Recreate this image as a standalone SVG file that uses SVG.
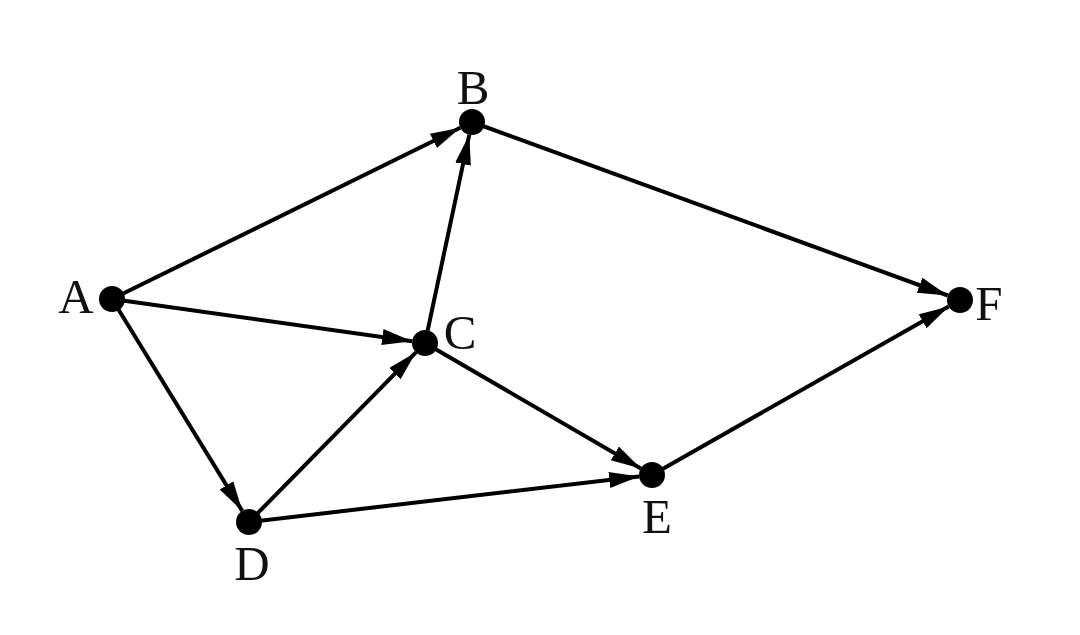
<svg xmlns="http://www.w3.org/2000/svg" width="1080" height="635" viewBox="0 0 1080 635">
<defs>
<marker id="arr" markerUnits="userSpaceOnUse" markerWidth="32" markerHeight="18" refX="30" refY="8" orient="auto" viewBox="0 0 32 18">
<path d="M0,0 L30,8 L0,16 Z" fill="#000"/>
</marker>
<style>
.e{stroke:#000;stroke-width:4;fill:none;marker-end:url(#arr)}
.n{fill:#000}
.t{font-family:"Liberation Serif","Times New Roman",serif;font-size:49px;fill:#111;text-anchor:middle}
</style>
</defs>
<rect width="1080" height="635" fill="#fff"/>
<g id="edges">
<line class="e" x1="112" y1="299" x2="460.3" y2="127.7"/>
<line class="e" x1="112" y1="299" x2="412.1" y2="341.2"/>
<line class="e" x1="112" y1="299" x2="242.2" y2="510.9"/>
<line class="e" x1="472" y1="122" x2="947.8" y2="295.5"/>
<line class="e" x1="425" y1="343" x2="469.3" y2="134.7"/>
<line class="e" x1="425" y1="343" x2="640.8" y2="468.5"/>
<line class="e" x1="249" y1="522" x2="415.9" y2="352.3"/>
<line class="e" x1="249" y1="522" x2="639.1" y2="476.5"/>
<line class="e" x1="652" y1="475" x2="948.7" y2="306.4"/>
</g>
<g id="A"><circle class="n" cx="112" cy="299" r="13"/><text class="t" x="76" y="313">A</text></g>
<g id="B"><circle class="n" cx="472" cy="122" r="13"/><text class="t" x="473" y="104">B</text></g>
<g id="C"><circle class="n" cx="425" cy="343" r="13"/><text class="t" x="460" y="349">C</text></g>
<g id="D"><circle class="n" cx="249" cy="522" r="13"/><text class="t" x="252" y="580">D</text></g>
<g id="E"><circle class="n" cx="652" cy="475" r="13"/><text class="t" x="657" y="533">E</text></g>
<g id="F"><circle class="n" cx="960" cy="300" r="13"/><text class="t" x="989" y="320">F</text></g>
</svg>
